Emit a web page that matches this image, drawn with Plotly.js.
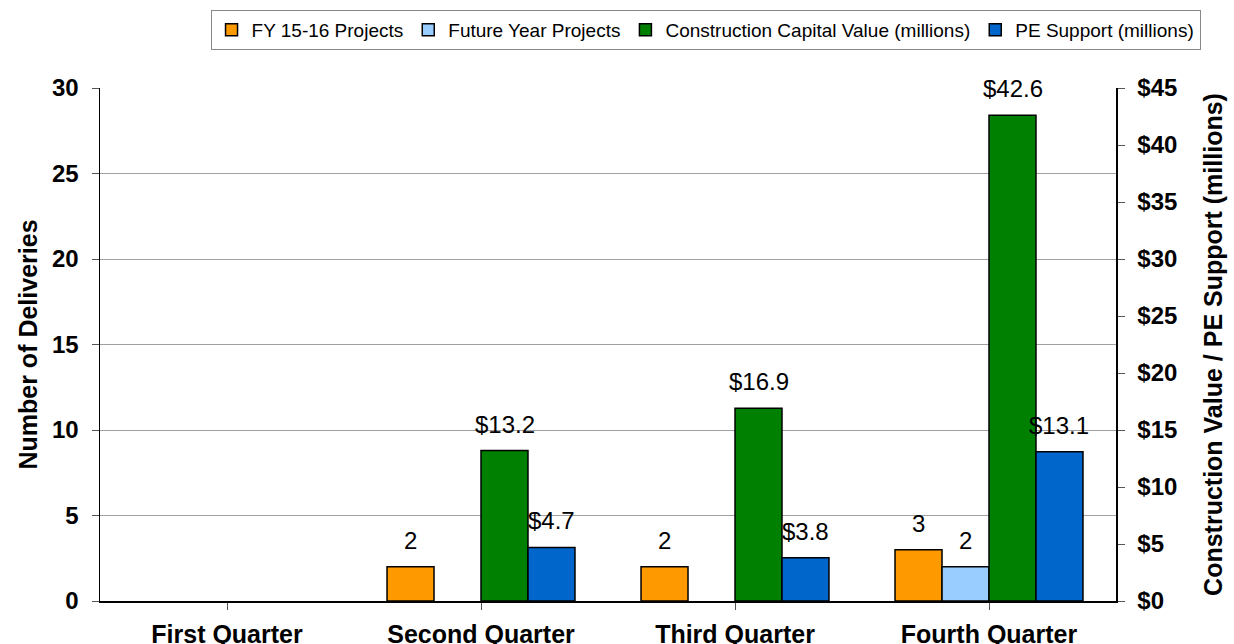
<!DOCTYPE html>
<html>
<head>
<meta charset="utf-8">
<script src="https://cdn.plot.ly/plotly-3.0.1.min.js"></script>
<style>html,body{margin:0;padding:0;background:#fff;}#chart{width:1234px;height:644px;}</style>
</head>
<body>
<div id="chart"></div>
<script>
var quarters = ["First Quarter", "Second Quarter", "Third Quarter", "Fourth Quarter"];
var fyProjects = [null, 2, 2, 3];
var futureProjects = [null, null, null, 2];
var constructionValue = [null, 13.2, 16.9, 42.6];
var peSupport = [null, 4.7, 3.8, 13.1];
var leftTicks = [0, 5, 10, 15, 20, 25, 30];
var rightTicks = [0, 5, 10, 15, 20, 25, 30, 35, 40, 45];

var FONT = "Liberation Sans, Arial, sans-serif";
var W = 0.185;
var series = [
  {name: "FY 15-16 Projects", y: fyProjects, color: "#FF9900", off: -2, axis: "y", fmt: function(v){return String(v);}},
  {name: "Future Year Projects", y: futureProjects, color: "#99CCFF", off: -1, axis: "y", fmt: function(v){return String(v);}},
  {name: "Construction Capital Value (millions)", y: constructionValue, color: "#008000", off: 0, axis: "y2", fmt: function(v){return "$" + v.toFixed(1);}},
  {name: "PE Support (millions)", y: peSupport, color: "#0066CC", off: 1, axis: "y2", fmt: function(v){return "$" + v.toFixed(1);}}
];

var xIdx = quarters.map(function(_, i){ return i; });
var traces = [];
var annotations = [];
series.forEach(function(s){
  traces.push({
    type: "bar", name: s.name, x: xIdx, y: s.y, yaxis: s.axis,
    width: W, offset: s.off * W,
    marker: {color: s.color, line: {color: "#000", width: 1.5}},
    hoverinfo: "y"
  });
  s.y.forEach(function(v, i){
    if (v === null) return;
    annotations.push({
      x: i + s.off * W + W / 2, y: v, xref: "x", yref: s.axis,
      text: s.fmt(v), showarrow: false, yanchor: "bottom", yshift: 11,
      font: {family: FONT, size: 24, color: "#000"}
    });
  });
});

var tickFont = {family: FONT, size: 24, color: "#000", weight: "bold"};
var titleFont = {family: FONT, size: 25, color: "#000", weight: "bold"};
var layout = {
  width: 1234, height: 644,
  margin: {l: 100, r: 118, t: 88, b: 43, autoexpand: false},
  paper_bgcolor: "#fff", plot_bgcolor: "#fff",
  barmode: "overlay",
  showlegend: true,
  legend: {
    orientation: "h", x: 0.596, xanchor: "center", y: 1.152, yanchor: "top",
    bordercolor: "#888", borderwidth: 1, bgcolor: "#fff",
    font: {family: FONT, size: 19, color: "#000"},
    itemwidth: 30, traceorder: "normal"
  },
  xaxis: {
    range: [-0.5, 3.5], tickvals: xIdx, ticktext: quarters,
    tickfont: {family: FONT, size: 25, color: "#000", weight: "bold"},
    showline: true, linecolor: "#000", linewidth: 1.5,
    ticks: "outside", tickson: "boundaries", ticklen: 7, tickcolor: "#555",
    ticklabelstandoff: 3, showgrid: false, zeroline: false, automargin: false
  },
  yaxis: {
    range: [0, 30], tickvals: leftTicks, tickfont: tickFont,
    showline: true, linecolor: "#000", linewidth: 1.5,
    ticks: "outside", ticklen: 7, tickcolor: "#555",
    showgrid: true, gridcolor: "#a0a0a0", gridwidth: 1, zeroline: false,
    title: {text: "Number of Deliveries", font: titleFont, standoff: 7},
    ticklabelstandoff: 8, automargin: false
  },
  yaxis2: {
    range: [0, 45], tickvals: rightTicks, ticktext: rightTicks.map(function(v){return "$" + v;}),
    tickfont: tickFont, overlaying: "y", side: "right",
    showline: true, linecolor: "#000", linewidth: 1.5,
    ticks: "outside", ticklen: 7, tickcolor: "#555",
    showgrid: false, zeroline: false,
    title: {text: "Construction Value / PE Support (millions)", font: titleFont, standoff: 28},
    ticklabelstandoff: 8, automargin: false
  },
  annotations: annotations
};

Plotly.newPlot("chart", traces, layout, {displayModeBar: false, staticPlot: true});
</script>
</body>
</html>
